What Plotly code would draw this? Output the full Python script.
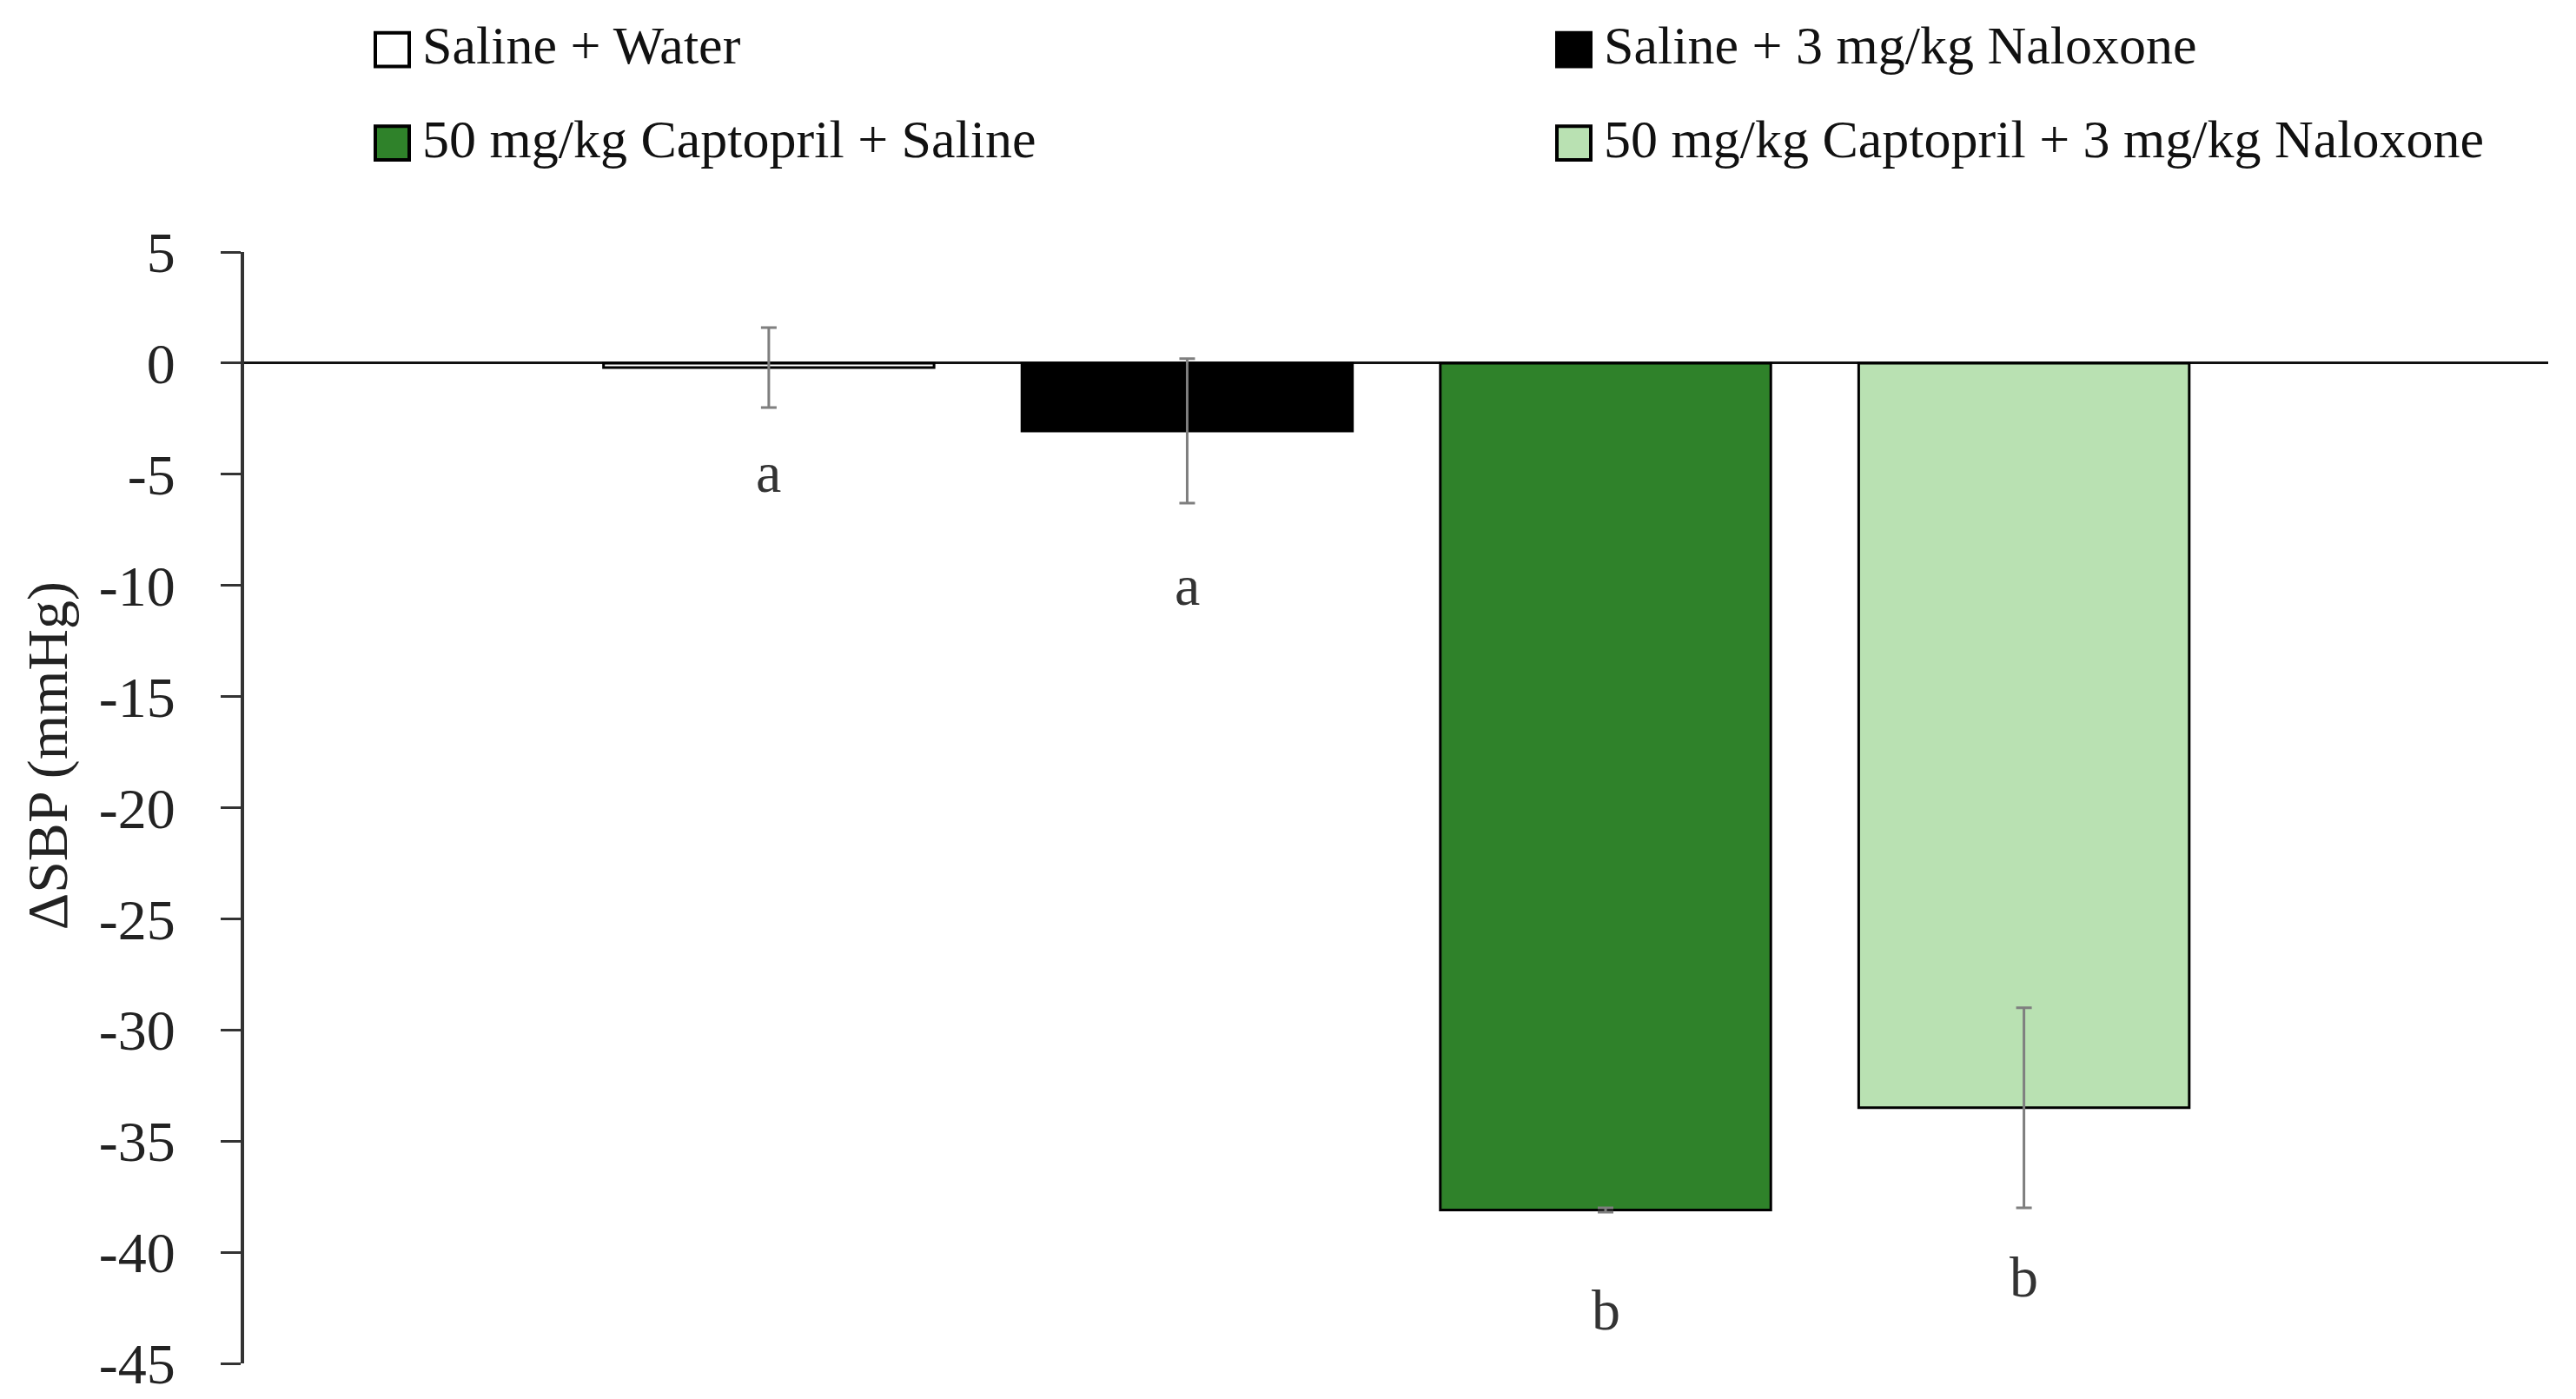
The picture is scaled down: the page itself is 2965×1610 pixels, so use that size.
import plotly.graph_objects as go

groups = ["Saline + Water", "Saline + 3 mg/kg Naloxone",
          "50 mg/kg Captopril + Saline", "50 mg/kg Captopril + 3 mg/kg Naloxone"]
dsbp = [-0.2, -3.05, -38.1, -33.5]
sem = [1.8, 3.25, 0.1, 4.5]
letters = ["a", "a", "b", "b"]
letter_y = [-4.9, -10.0, -42.6, -41.1]
colors = ["#ffffff", "#000000", "#2f822a", "#b9e1b2"]
y_ticks = [5, 0, -5, -10, -15, -20, -25, -30, -35, -40, -45]

W, H = 2965, 1610
L, R, T, B = 273, 40, 282, 43
FONT = "Liberation Serif"


def paper(xpx, ypx):
    return (xpx - L) / (W - L - R), 1 - (ypx - T) / (H - T - B)


fig = go.Figure()
fig.add_trace(go.Bar(
    x=list(range(len(groups))), y=dsbp, width=0.79,
    marker=dict(color=colors, line=dict(color="#000000", width=3)),
    error_y=dict(type="data", array=sem, color="#7f7f7f", thickness=3, width=9),
    showlegend=False,
))

for i, (lab, ly) in enumerate(zip(letters, letter_y)):
    fig.add_annotation(x=i, y=ly, text=lab, showarrow=False,
                       font=dict(family=FONT, size=66, color="#333333"))

# legend drawn as boxes + text, two columns
leg_cols = [424, 1784]
leg_rows = [48, 156]
box = 39
for i, name in enumerate(groups):
    xpx = leg_cols[i % 2]
    ypx = leg_rows[i // 2]
    x0, y0 = paper(xpx, ypx - box / 2)
    x1, y1 = paper(xpx + box, ypx + box / 2)
    fig.add_shape(type="rect", xref="paper", yref="paper", x0=x0, x1=x1, y0=y1, y1=y0,
                  fillcolor=colors[i], line=dict(color="#000000", width=4))
    tx, ty = paper(xpx + box + 13, ypx - 5)
    fig.add_annotation(xref="paper", yref="paper", x=tx, y=ty, text=name, showarrow=False,
                       xanchor="left", yanchor="middle",
                       font=dict(family=FONT, size=62, color="#111111"))

# y axis title
ax, ay = paper(47, 865)
fig.add_annotation(xref="paper", yref="paper", x=ax, y=ay, text="ΔSBP (mmHg)",
                   textangle=-90, showarrow=False, xanchor="center", yanchor="middle",
                   font=dict(family=FONT, size=66, color="#222222"))

fig.update_layout(
    width=W, height=H,
    margin=dict(l=L, r=R, t=T, b=B),
    plot_bgcolor="white", paper_bgcolor="white",
    font=dict(family=FONT, size=66, color="#222222"),
)
fig.update_xaxes(range=[-1.254, 4.253], showticklabels=False, showgrid=False,
                 zeroline=False, showline=False, ticks="")
fig.update_yaxes(range=[-45, 5], tickvals=y_ticks, ticktext=[str(v) for v in y_ticks],
                 showgrid=False,
                 showline=True, linecolor="#333333", linewidth=4,
                 ticks="outside", ticklen=23, tickwidth=3, tickcolor="#333333",
                 ticklabelstandoff=39,
                 zeroline=True, zerolinecolor="#111111", zerolinewidth=3)

fig.write_html("out.html")
